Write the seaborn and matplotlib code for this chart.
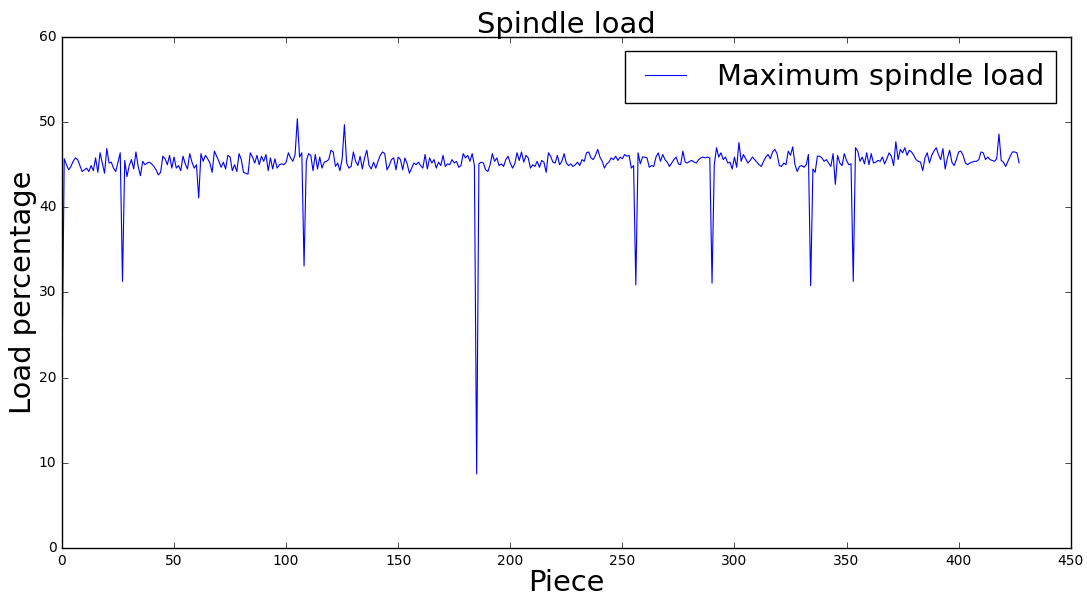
import numpy as np
import pandas as pd
import matplotlib
matplotlib.use("Agg")
import matplotlib.pyplot as plt
import seaborn as sns

# ==============================================
# Data: maximum spindle load per piece
# ==============================================
load_000_049 = [19.5, 45.7, 45.0, 44.4, 44.8, 45.4, 45.8, 45.6, 44.9, 44.2,
                44.4, 44.6, 44.2, 44.9, 44.3, 45.8, 44.1, 46.4, 45.2, 44.0,
                46.9, 45.2, 45.3, 44.6, 44.2, 45.3, 46.4, 31.3, 45.5, 43.6,
                44.9, 45.6, 44.5, 46.5, 44.8, 43.7, 45.4, 45.0, 45.2, 45.3,
                45.1, 44.8, 44.4, 43.8, 44.1, 46.0, 45.7, 45.0, 46.1, 44.6]
load_050_099 = [45.9, 44.6, 44.9, 44.3, 46.0, 45.1, 44.5, 46.3, 45.3, 44.6,
                45.0, 41.1, 46.3, 45.4, 46.1, 45.7, 45.2, 44.1, 46.6, 46.0,
                45.4, 44.7, 45.3, 44.5, 46.1, 45.9, 44.3, 45.0, 44.2, 46.3,
                45.6, 44.1, 44.0, 43.9, 46.4, 45.9, 45.2, 46.1, 45.0, 46.0,
                45.4, 46.2, 44.3, 45.8, 44.5, 45.7, 44.6, 45.0, 45.1, 45.0]
load_100_149 = [45.3, 46.4, 45.8, 45.4, 46.2, 50.4, 45.9, 46.4, 33.1, 45.4,
                46.3, 46.1, 44.3, 46.2, 44.5, 45.9, 44.6, 45.3, 45.4, 45.6,
                46.7, 46.5, 44.8, 45.2, 44.3, 45.7, 49.7, 45.2, 44.6, 44.8,
                46.5, 45.4, 44.9, 46.0, 44.5, 45.8, 46.7, 44.9, 44.5, 45.3,
                44.6, 45.4, 46.1, 46.5, 46.3, 44.4, 44.9, 45.6, 45.8, 44.4]
load_150_199 = [45.9, 45.6, 44.4, 45.8, 45.1, 44.0, 44.6, 45.2, 45.0, 45.3,
                44.9, 44.6, 46.2, 44.5, 45.8, 45.2, 45.6, 44.6, 45.3, 44.9,
                46.1, 44.8, 45.1, 45.0, 45.6, 45.2, 45.4, 44.7, 44.9, 46.3,
                45.8, 46.1, 45.4, 46.3, 44.9, 8.7, 45.1, 45.3, 45.2, 44.4,
                44.2, 45.0, 46.3, 45.4, 45.8, 44.9, 45.1, 44.8, 45.6, 46.0]
load_200_249 = [45.2, 44.6, 45.1, 46.4, 45.5, 46.5, 45.3, 46.1, 45.8, 44.6,
                45.0, 44.8, 45.4, 44.7, 45.5, 45.3, 44.1, 46.4, 46.0, 45.3,
                45.2, 46.1, 45.0, 45.4, 46.3, 45.2, 44.9, 45.1, 44.8, 45.0,
                45.3, 44.9, 45.6, 45.4, 46.4, 46.5, 45.8, 45.6, 46.1, 46.8,
                45.9, 45.4, 44.6, 45.1, 45.3, 45.8, 45.6, 46.0, 45.5, 45.9]
load_250_299 = [45.7, 46.2, 46.0, 46.1, 44.6, 44.9, 30.9, 46.4, 45.1, 45.9,
                45.9, 45.8, 44.7, 44.9, 44.8, 45.9, 46.4, 45.4, 46.2, 45.6,
                45.3, 44.8, 45.2, 45.6, 45.9, 45.1, 45.0, 46.6, 45.3, 45.2,
                45.4, 45.5, 45.3, 45.2, 45.6, 45.8, 45.9, 45.8, 45.9, 45.8,
                31.1, 45.0, 47.0, 45.9, 46.4, 45.6, 45.9, 45.2, 45.3, 44.5]
load_300_349 = [45.9, 44.7, 47.6, 45.4, 46.2, 45.7, 45.2, 45.5, 45.9, 45.6,
                45.3, 45.0, 44.8, 45.4, 45.9, 46.2, 45.7, 46.5, 46.8, 46.3,
                44.9, 44.8, 45.2, 45.0, 46.6, 46.1, 47.1, 45.0, 44.2, 44.8,
                44.9, 44.7, 45.0, 46.2, 30.8, 44.5, 44.1, 46.0, 46.0, 45.8,
                45.4, 45.6, 45.2, 44.8, 46.3, 42.7, 46.1, 45.2, 44.9, 46.3]
load_350_399 = [45.5, 45.0, 45.1, 31.3, 47.0, 46.6, 45.4, 45.9, 45.1, 46.4,
                45.0, 46.3, 45.2, 45.3, 45.5, 45.4, 45.9, 45.1, 45.7, 46.4,
                46.0, 44.9, 47.7, 45.6, 46.8, 46.4, 47.0, 46.1, 46.7, 46.5,
                46.1, 45.6, 45.4, 45.3, 44.3, 45.8, 46.4, 45.2, 46.1, 46.6,
                47.0, 46.2, 45.6, 46.9, 44.5, 45.8, 46.7, 45.3, 44.9, 45.6]
load_400_427 = [46.5, 46.6, 46.1, 45.2, 45.0, 45.2, 45.3, 45.4, 45.4, 45.6,
                46.5, 46.4, 45.6, 45.9, 45.6, 45.5, 45.4, 45.7, 48.6, 45.5,
                45.3, 44.8, 45.4, 46.0, 46.5, 46.5, 46.4, 45.2]

spindle_load = (load_000_049 + load_050_099 + load_100_149 + load_150_199 +
                load_200_249 + load_250_299 + load_300_349 + load_350_399 +
                load_400_427)
piece = np.arange(len(spindle_load))

df = pd.DataFrame({"Piece": piece, "Load": spindle_load})

# ==============================================
# Plot in the old matplotlib look
# ==============================================
plt.style.use("classic")
plt.rcParams["figure.facecolor"] = "white"
plt.rcParams["savefig.facecolor"] = "white"

big = 20.8  # title / labels / legend size

fig = plt.figure(figsize=(10.87, 5.96), dpi=100)
ax = fig.add_axes([0.057, 0.0805, 0.928, 0.8575])

sns.lineplot(data=df, x="Piece", y="Load", color="b", linewidth=0.8,
             label="Maximum spindle load", ax=ax)

ax.set_xlim(0, 450)
ax.set_ylim(0, 60)
ax.set_title("Spindle load", fontsize=big, pad=3)
ax.set_xlabel("Piece", fontsize=big, labelpad=1)
ax.set_ylabel("Load percentage", fontsize=big, labelpad=1)
ax.tick_params(labelsize=10)
ax.legend(loc="upper right", fontsize=big)

fig.savefig("out.png", dpi=100)
